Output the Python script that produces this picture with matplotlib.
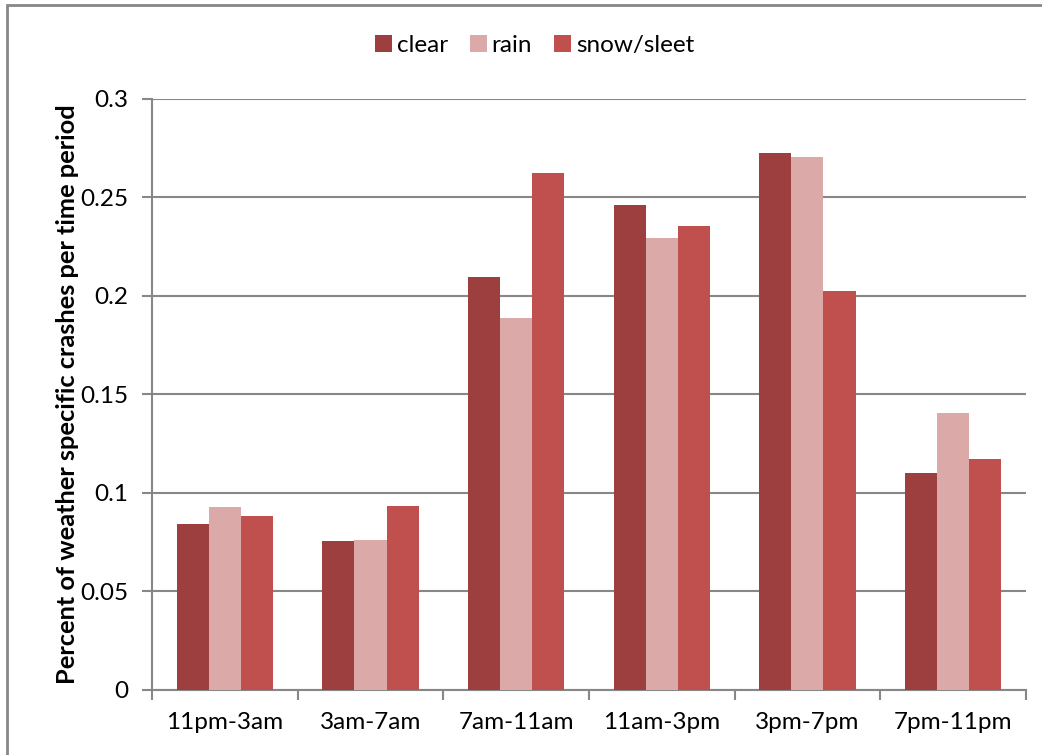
import numpy as np
import matplotlib.pyplot as plt
from matplotlib.patches import Rectangle

periods = ["11pm-3am", "3am-7am", "7am-11am", "11am-3pm", "3pm-7pm", "7pm-11pm"]
clear = [0.0845, 0.0755, 0.2098, 0.2464, 0.2728, 0.1103]
rain = [0.0928, 0.0760, 0.1890, 0.2296, 0.2707, 0.1407]
snow = [0.0882, 0.0936, 0.2626, 0.2357, 0.2025, 0.1170]

plt.rcParams['font.family'] = ['Lato', 'DejaVu Sans']

fig = plt.figure(figsize=(10.42, 7.55), dpi=100)
ax = fig.add_axes([0.1459, 0.0861, 0.8387, 0.7828])

# outer chart border (only top/left visible in the crop)
fig.patches.append(Rectangle((7 / 1042, -0.1), 1.2, 1 - 5 / 755 + 0.1,
                             transform=fig.transFigure, fill=False,
                             edgecolor="#878787", linewidth=2))

x = np.arange(len(periods))
w = 0.22
ax.bar(x - w, clear, w, color="#9C3F3E", label="clear", zorder=3)
ax.bar(x, rain, w, color="#DBA9A8", label="rain", zorder=3)
ax.bar(x + w, snow, w, color="#C0504D", label="snow/sleet", zorder=3)

ax.set_xlim(-0.5, len(periods) - 0.5)
ax.set_ylim(0, 0.3)
ax.set_yticks([0, 0.05, 0.1, 0.15, 0.2, 0.25, 0.3])
ax.set_yticklabels(["0", "0.05", "0.1", "0.15", "0.2", "0.25", "0.3"])
ax.set_xticks(x)
ax.set_xticklabels(periods)
ax.set_xticks(np.arange(-0.5, len(periods)), minor=True)
ax.tick_params(axis="x", which="major", length=0, pad=16, labelsize=17.5)
ax.tick_params(axis="x", which="minor", length=7, width=1.5, color="#878787")
ax.tick_params(axis="y", length=7, width=1.5, color="#878787", pad=10, labelsize=17.5)
ax.grid(axis="y", color="#878787", linewidth=1.5, zorder=0)
ax.set_axisbelow(True)
for s in ["top", "right"]:
    ax.spines[s].set_visible(False)
for s in ["left", "bottom"]:
    ax.spines[s].set_color("#878787")
    ax.spines[s].set_linewidth(1.5)

ax.set_ylabel("Percent of weather specific crashes per time period",
              fontsize=18.3, fontweight="bold", labelpad=1)

fig.legend(loc="center", bbox_to_anchor=(0.513, 0.94), ncol=3, frameon=False,
           fontsize=17.5, handlelength=0.7, handleheight=0.7, handletextpad=0.2,
           columnspacing=0.9)

plt.savefig("out.png", dpi=100)
